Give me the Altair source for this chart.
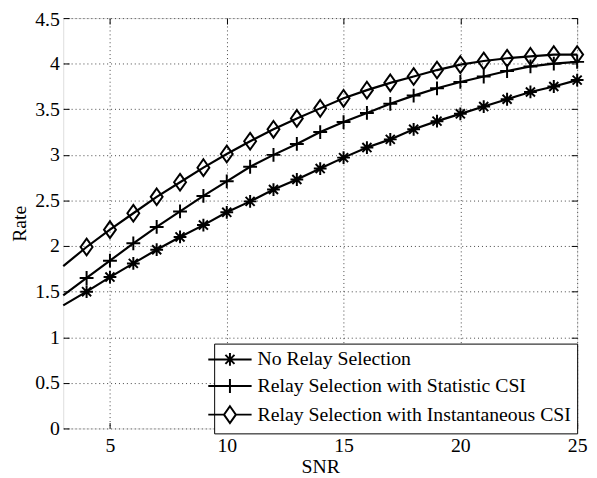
import altair as alt
import pandas as pd

snr = list(range(3, 26))
no_relay = [1.35, 1.50, 1.66, 1.81, 1.96, 2.10, 2.23, 2.37, 2.49, 2.62, 2.73, 2.85,
            2.97, 3.08, 3.17, 3.28, 3.37, 3.45, 3.53, 3.61, 3.69, 3.75, 3.82]
statistic = [1.46, 1.65, 1.84, 2.03, 2.21, 2.38, 2.55, 2.71, 2.87, 3.00, 3.12, 3.25,
             3.36, 3.46, 3.56, 3.65, 3.73, 3.80, 3.86, 3.92, 3.97, 4.00, 4.02]
instant = [1.78, 1.99, 2.18, 2.36, 2.54, 2.70, 2.86, 3.01, 3.15, 3.28, 3.40, 3.51,
           3.62, 3.71, 3.79, 3.86, 3.93, 3.99, 4.03, 4.06, 4.08, 4.10, 4.10]
names = ["No Relay Selection",
         "Relay Selection with Statistic CSI",
         "Relay Selection with Instantaneous CSI"]
x_ticks = [5, 10, 15, 20, 25]
y_ticks = [0, 0.5, 1, 1.5, 2, 2.5, 3, 3.5, 4, 4.5]

rows = []
for name, vals in zip(names, [no_relay, statistic, instant]):
    for s, v in zip(snr, vals):
        rows.append({"snr": s, "rate": v, "series": name})
df = pd.DataFrame(rows)

FONT = "Liberation Serif"
W, H = 521, 416

marker_paths = [
    "M-0.72,0H0.72M0,-0.72V0.72M-0.51,-0.51L0.51,0.51M-0.51,0.51L0.51,-0.51",
    "M-0.78,0H0.78M0,-0.78V0.78",
    "M0,-0.94L0.67,0L0,0.94L-0.67,0Z",
]
legend_paths = [
    "M-2.44,0H2.44M0,-0.72V0.72M-0.51,-0.51L0.51,0.51M-0.51,0.51L0.51,-0.51",
    "M-2.44,0H2.44M0,-0.78V0.78",
    "M-2.44,0H-0.67M0.67,0H2.44M0,-0.94L0.67,0L0,0.94L-0.67,0Z",
]

xscale = alt.Scale(domain=[3, 25], nice=False, zero=False)
yscale = alt.Scale(domain=[0, 4.5], nice=False)

main_x_axis = alt.Axis(values=x_ticks, title="SNR", ticks=False, domain=False,
                       grid=True, gridDash=[1, 3], gridColor="#444", gridWidth=1,
                       labelFont=FONT, labelFontSize=20, labelColor="black",
                       labelPadding=7, titleFont=FONT, titleFontSize=20,
                       titleFontWeight="normal", titleColor="black", titlePadding=2,
                       labelFlush=False)
main_y_axis = alt.Axis(values=y_ticks, title="Rate", ticks=False, domain=False,
                       grid=True, gridDash=[1, 3], gridColor="#444", gridWidth=1,
                       format="~g", labelFont=FONT, labelFontSize=20, labelColor="black",
                       labelPadding=4, titleFont=FONT, titleFontSize=20,
                       labelOffset={"condition": {"test": "datum.value >= 4.5", "value": 2},
                                    "value": 0},
                       titleFontWeight="normal", titleColor="black", titlePadding=5,
                       labelFlush=False)

lines = alt.Chart(df).mark_line(color="black", strokeWidth=2.2).encode(
    x=alt.X("snr:Q", scale=xscale, axis=main_x_axis),
    y=alt.Y("rate:Q", scale=yscale, axis=main_y_axis),
    detail="series:N",
)

points = alt.Chart(df).transform_filter("datum.snr >= 4").mark_point(
    filled=False, color="black", strokeWidth=2, size=324, opacity=1
).encode(
    x=alt.X("snr:Q", scale=xscale, axis=None),
    y=alt.Y("rate:Q", scale=yscale, axis=None),
    shape=alt.Shape("series:N", scale=alt.Scale(domain=names, range=marker_paths),
                    legend=None),
)

legend_layer = alt.Chart(df).transform_filter("datum.snr < 0").mark_point(
    filled=False, color="black", strokeWidth=2, size=324, opacity=1
).encode(
    x=alt.X("snr:Q", scale=xscale, axis=None),
    y=alt.Y("rate:Q", scale=yscale, axis=None),
    shape=alt.Shape("series:N", scale=alt.Scale(domain=names, range=legend_paths),
                    legend=alt.Legend(title=None, orient="none", legendX=153, legendY=330,
                                      labelFont=FONT, labelFontSize=20, labelColor="black",
                                      symbolSize=324, symbolStrokeWidth=2,
                                      symbolStrokeColor="black", symbolFillColor="transparent",
                                      labelOffset=18, rowPadding=4, padding=6,
                                      strokeColor="black", fillColor="white",
                                      labelLimit=500)),
)

def tick_layer(x_axis, y_axis):
    return alt.Chart(df).transform_filter("datum.snr < 0").mark_point(opacity=0).encode(
        x=alt.X("snr:Q", scale=xscale, axis=x_axis),
        y=alt.Y("rate:Q", scale=yscale, axis=y_axis),
    )

tick_common = dict(labels=False, grid=False, domain=False, ticks=True, tickSize=6,
                   tickColor="black", tickWidth=1, title=None)

bottom_in = tick_layer(alt.Axis(orient="top", offset=-H, values=x_ticks, **tick_common), None)
top_in = tick_layer(alt.Axis(orient="bottom", offset=-H, values=x_ticks, **tick_common), None)
left_in = tick_layer(None, alt.Axis(orient="right", offset=-W, values=y_ticks, **tick_common))
right_in = tick_layer(None, alt.Axis(orient="left", offset=-W, values=y_ticks, **tick_common))

chart = alt.layer(lines, points, legend_layer, bottom_in, top_in, left_in, right_in).resolve_scale(
    shape="independent"
).resolve_axis(x="independent", y="independent").properties(
    width=W, height=H,
    autosize=alt.AutoSizeParams(type="none"),
    padding={"left": 56, "top": 7, "right": 12, "bottom": 47},
).configure_view(stroke="black", strokeWidth=1.6).configure(background="white")

chart.save("out.html", embed_options={"renderer": "svg", "actions": False})
